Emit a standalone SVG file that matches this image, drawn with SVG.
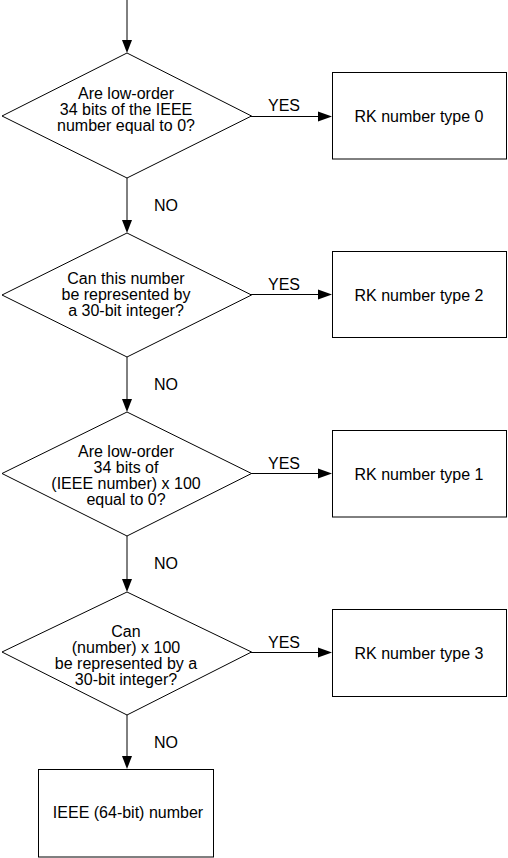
<svg xmlns="http://www.w3.org/2000/svg" width="508" height="858" viewBox="0 0 508 858">
<style>
  .shape { fill: #ffffff; stroke: #000000; stroke-width: 1; }
  .conn { stroke: #000000; stroke-width: 1; fill: none; }
  .head { fill: #000000; stroke: none; }
  text { font-family: "Liberation Sans", Arial, sans-serif; font-size: 16px; fill: #000000; }
  .c { text-anchor: middle; }
</style>
<rect width="508" height="858" fill="#ffffff"/>
<g id="connectors">
  <line class="conn" x1="127" y1="0" x2="127" y2="42"/>
  <polygon class="head" points="122,40 132,40 127,53"/>
  <line class="conn" x1="127" y1="178" x2="127" y2="222"/>
  <polygon class="head" points="122,220 132,220 127,233"/>
  <line class="conn" x1="127" y1="357" x2="127" y2="401"/>
  <polygon class="head" points="122,399 132,399 127,412"/>
  <line class="conn" x1="127" y1="536" x2="127" y2="581"/>
  <polygon class="head" points="122,579 132,579 127,592"/>
  <line class="conn" x1="127" y1="715" x2="127" y2="758"/>
  <polygon class="head" points="122,756 132,756 127,769"/>
  <text x="154" y="211">NO</text>
  <text x="154" y="390">NO</text>
  <text x="154" y="569">NO</text>
  <text x="154" y="748">NO</text>

  <line class="conn" x1="251" y1="116.5" x2="320" y2="116.5"/>
  <polygon class="head" points="318,111.5 318,121.5 332,116.5"/>
  <line class="conn" x1="251" y1="294.5" x2="320" y2="294.5"/>
  <polygon class="head" points="318,289.5 318,299.5 332,294.5"/>
  <line class="conn" x1="251" y1="473.5" x2="320" y2="473.5"/>
  <polygon class="head" points="318,468.5 318,478.5 332,473.5"/>
  <line class="conn" x1="251" y1="652.5" x2="320" y2="652.5"/>
  <polygon class="head" points="318,647.5 318,657.5 332,652.5"/>
  <text class="c" x="284" y="111">YES</text>
  <text class="c" x="284" y="290">YES</text>
  <text class="c" x="284" y="469">YES</text>
  <text class="c" x="284" y="648">YES</text>
</g>
<g id="d1">
  <polygon class="shape" points="127,53 251.5,116 127,178 2,116"/>
  <text class="c" x="126" y="99">Are low-order</text>
  <text class="c" x="126" y="115">34 bits of the IEEE</text>
  <text class="c" x="126" y="131">number equal to 0?</text>
</g>
<g id="d2">
  <polygon class="shape" points="127,233 251.5,295 127,357 2,295"/>
  <text class="c" x="126" y="284">Can this number</text>
  <text class="c" x="126" y="300">be represented by</text>
  <text class="c" x="126" y="316">a 30-bit integer?</text>
</g>
<g id="d3">
  <polygon class="shape" points="127,412 251.5,473.5 127,536 2,473.5"/>
  <text class="c" x="126" y="457">Are low-order</text>
  <text class="c" x="126" y="473">34 bits of</text>
  <text class="c" x="126" y="489">(IEEE number) x 100</text>
  <text class="c" x="126" y="505">equal to 0?</text>
</g>
<g id="d4">
  <polygon class="shape" points="127,592 251.5,652 127,715 2,652"/>
  <text class="c" x="126" y="636.5">Can</text>
  <text class="c" x="126" y="652.5">(number) x 100</text>
  <text class="c" x="126" y="668.5">be represented by a</text>
  <text class="c" x="126" y="684.5">30-bit integer?</text>
</g>
<g id="b0">
  <rect class="shape" x="332.5" y="72.5" width="174" height="86.5"/>
  <text class="c" x="419" y="122">RK number type 0</text>
</g>
<g id="b2">
  <rect class="shape" x="332.5" y="251.5" width="174" height="86"/>
  <text class="c" x="419" y="301">RK number type 2</text>
</g>
<g id="b1">
  <rect class="shape" x="332.5" y="430.5" width="174" height="86.5"/>
  <text class="c" x="419" y="479.5">RK number type 1</text>
</g>
<g id="b3">
  <rect class="shape" x="332.5" y="609.5" width="174" height="87"/>
  <text class="c" x="419" y="658.5">RK number type 3</text>
</g>
<g id="final">
  <rect class="shape" x="38.5" y="769.5" width="175" height="87.5"/>
  <text class="c" x="128" y="817.5">IEEE (64-bit) number</text>
</g>
</svg>
